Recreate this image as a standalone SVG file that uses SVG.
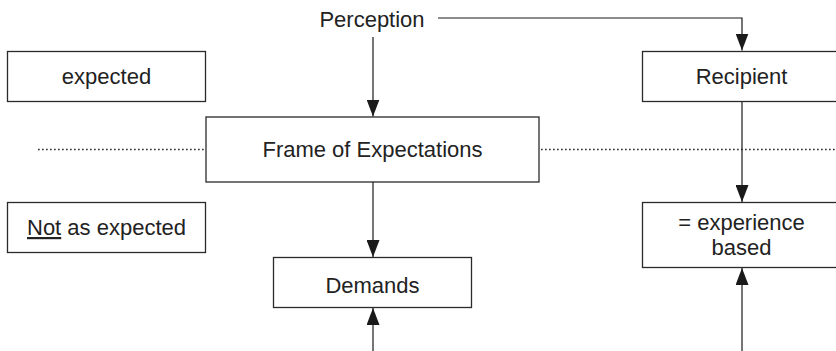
<svg xmlns="http://www.w3.org/2000/svg" width="836" height="351" viewBox="0 0 836 351">
<style>
  .box { fill: #ffffff; stroke: #2a2a2a; stroke-width: 1.3; }
  .lbl { font-family: "Liberation Sans", Arial, sans-serif; font-size: 22px; fill: #222222; text-anchor: middle; }
  .conn { fill: none; stroke: #1a1a1a; stroke-width: 1.2; }
  .dot { fill: none; stroke: #333333; stroke-width: 1.7; stroke-dasharray: 1.7 2.3; }
</style>
<defs>
  <marker id="arr" markerUnits="userSpaceOnUse" markerWidth="17" markerHeight="13" refX="17" refY="6.5" orient="auto" viewBox="0 0 17 13">
    <path d="M0,0 L17,6.5 L0,13 Z" fill="#1a1a1a"/>
  </marker>
</defs>
<rect width="836" height="351" fill="#ffffff"/>

<g id="dotted-lines">
  <line class="dot" x1="38" y1="149.5" x2="205" y2="149.5"/>
  <line class="dot" x1="541" y1="149.5" x2="836" y2="149.5"/>
</g>

<g id="connectors">
  <line class="conn" x1="373" y1="37" x2="373" y2="116.5" marker-end="url(#arr)"/>
  <polyline class="conn" points="438,18 742,18 742,50.5" marker-end="url(#arr)"/>
  <line class="conn" x1="373" y1="182" x2="373" y2="257" marker-end="url(#arr)"/>
  <line class="conn" x1="373" y1="351" x2="373" y2="308" marker-end="url(#arr)"/>
  <line class="conn" x1="742" y1="101" x2="742" y2="202" marker-end="url(#arr)"/>
  <line class="conn" x1="742" y1="351" x2="742" y2="268" marker-end="url(#arr)"/>
</g>

<g id="perception">
  <text class="lbl" x="372" y="26.5">Perception</text>
</g>

<g id="expected">
  <rect class="box" x="7.5" y="51.5" width="198" height="50"/>
  <text class="lbl" x="106.5" y="84">expected</text>
</g>

<g id="not-expected">
  <rect class="box" x="7.5" y="202.5" width="198" height="50"/>
  <text class="lbl" x="106.5" y="235"><tspan text-decoration="underline">Not</tspan> as expected</text>
</g>

<g id="frame">
  <rect class="box" x="206" y="117" width="333" height="65"/>
  <text class="lbl" x="372.5" y="157">Frame of Expectations</text>
</g>

<g id="demands">
  <rect class="box" x="273.5" y="257.5" width="198" height="50"/>
  <text class="lbl" x="372.5" y="293">Demands</text>
</g>

<g id="recipient">
  <rect class="box" x="642.5" y="51.5" width="198" height="50"/>
  <text class="lbl" x="741.5" y="84">Recipient</text>
</g>

<g id="experience">
  <rect class="box" x="642.5" y="202.5" width="198" height="65"/>
  <text class="lbl" x="741.5" y="230">= experience</text>
  <text class="lbl" x="741.5" y="255">based</text>
</g>
</svg>
